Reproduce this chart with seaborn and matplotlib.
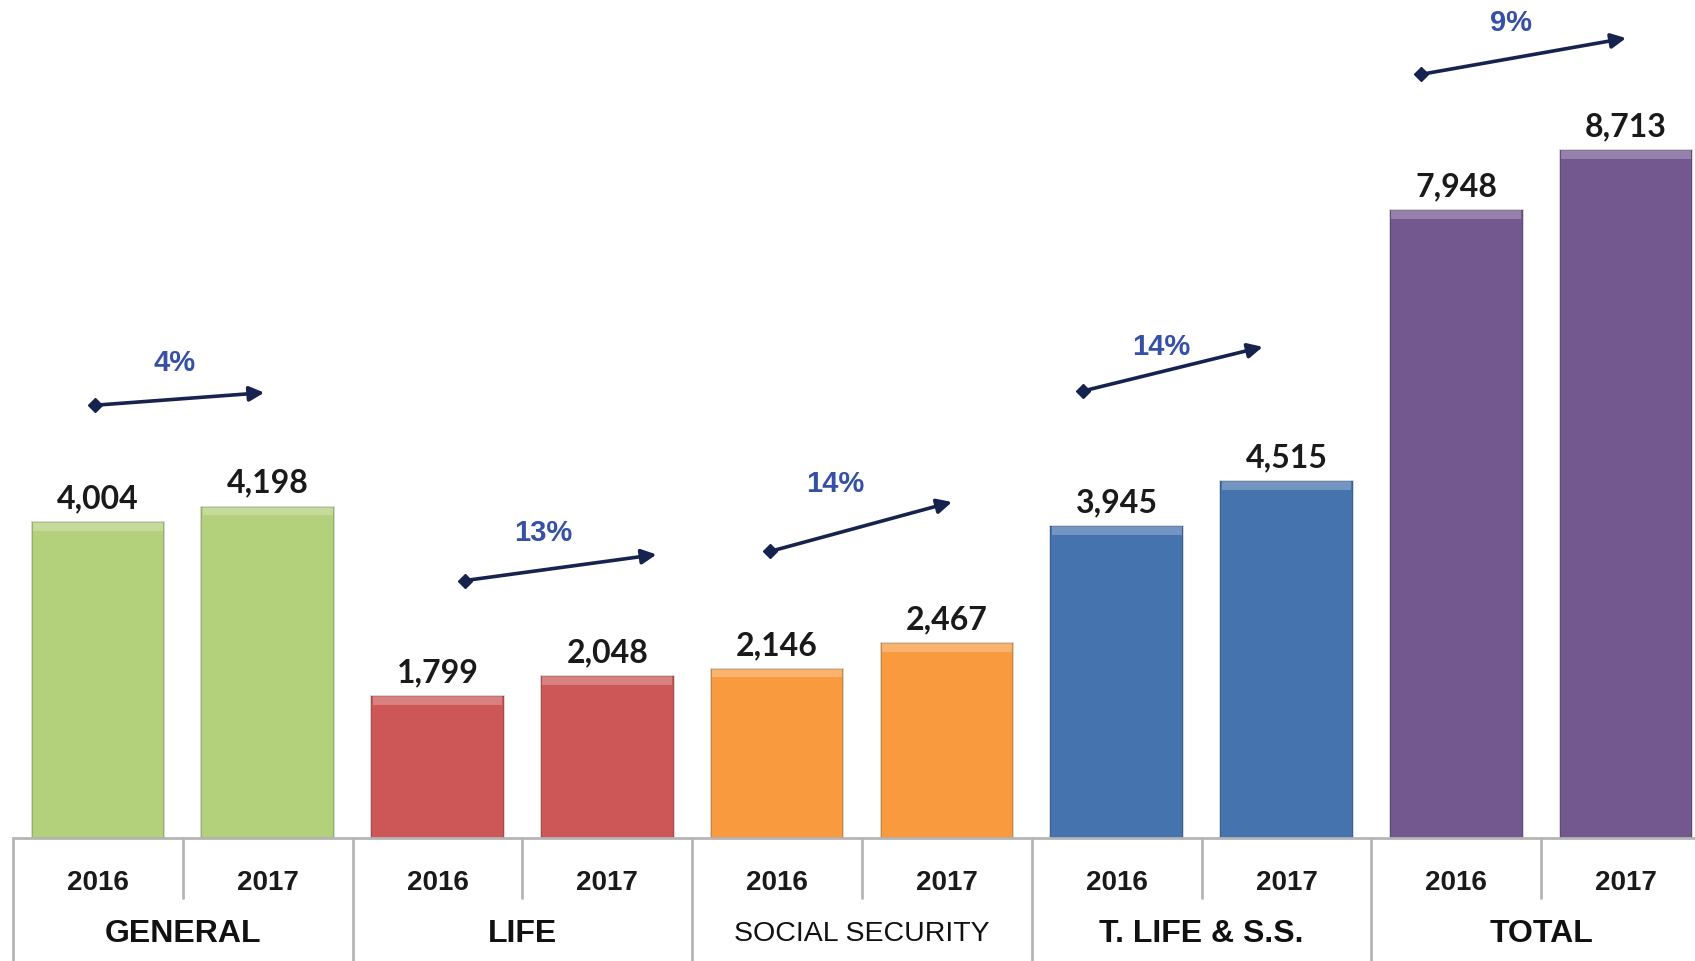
import matplotlib
matplotlib.use("Agg")
import matplotlib.pyplot as plt
import matplotlib.transforms as mtransforms
import pandas as pd
import seaborn as sns

# data
groups = ["GENERAL", "LIFE", "SOCIAL SECURITY", "T. LIFE & S.S.", "TOTAL"]
years = ["2016", "2017"]
values = [4004, 4198, 1799, 2048, 2146, 2467, 3945, 4515, 7948, 8713]
growth = ["4%", "13%", "14%", "14%", "9%"]
group_colors = ["#b3d07a", "#cd5656", "#f89a3d", "#4473ad", "#72588f"]

# arrow annotations (start, end) in data units, and text position
arrow_start = [(-0.02, 5480), (2.16, 3260), (3.96, 3630), (5.80, 5660), (7.79, 9670)]
arrow_end = [(0.98, 5640), (3.29, 3590), (5.03, 4255), (6.86, 6220), (9.0, 10130)]
text_pos = [(0.45, 6030), (2.62, 3880), (4.34, 4500), (6.26, 6230), (8.32, 10340)]


def main() -> None:
    sns.set_theme(style="white")
    plt.rcParams["font.family"] = ["Liberation Sans Narrow", "Liberation Sans", "DejaVu Sans"]

    labels = [f"{g}\n{y}" for g in groups for y in years]
    df = pd.DataFrame({"bar": labels, "value": values,
                       "group": [g for g in groups for _ in years]})
    palette = {g: c for g, c in zip(groups, group_colors)}

    fig = plt.figure(figsize=(16.95, 9.62), dpi=100)
    # the category table runs a little past the right edge, as in the original
    ax = fig.add_axes([13 / 1695, (962 - 839) / 962, 1698 / 1695, 839 / 962])
    sns.barplot(data=df, x="bar", y="value", hue="group", palette=palette,
                dodge=False, width=0.78, legend=False, ax=ax, saturation=1,
                edgecolor="#00000030", linewidth=1.2)
    ax.set_xlim(-0.5, len(values) - 0.5)
    ax.set_ylim(0, 10625)
    ax.set_xticks([])
    ax.set_yticks([])
    ax.set_xlabel("")
    ax.set_ylabel("")
    for s in ax.spines.values():
        s.set_visible(False)

    # lighter bevel strip on top of each bar
    for p in list(ax.patches):
        x0, w, h = p.get_x(), p.get_width(), p.get_height()
        ax.bar(x0 + w / 2, 110, bottom=h - 110, width=w * 0.98,
               color="white", alpha=0.25, linewidth=0)

    # value labels
    for i, v in enumerate(values):
        ax.annotate(f"{v:,}", (i, v), xytext=(0, 7), textcoords="offset points",
                    ha="center", va="bottom", fontsize=23, fontweight="bold",
                    family=["Lato", "DejaVu Sans"], color="#1a1a1a")

    # growth arrows
    for (x0, y0), (x1, y1), (tx, ty), g in zip(arrow_start, arrow_end, text_pos, growth):
        ax.annotate("", xy=(x1, y1), xytext=(x0, y0),
                    arrowprops=dict(arrowstyle="-|>", color="#17234f", lw=2.6,
                                    mutation_scale=22, shrinkA=0, shrinkB=0))
        ax.plot([x0], [y0], marker="D", color="#17234f", markersize=7)
        ax.text(tx, ty, g, ha="center", va="center", fontsize=21, fontweight="bold",
                color="#3550a4")

    # category table below the bars
    trans = mtransforms.blended_transform_factory(ax.transData, ax.transAxes)
    line_kw = dict(color="#b5b5b5", lw=2, transform=trans, clip_on=False)
    ax.plot([-0.5, len(values) - 0.5], [0, 0], **line_kw)
    for k in range(len(groups) + 1):
        xb = -0.5 + 2 * k
        ax.plot([xb, xb], [0, -0.16], **line_kw)
    for k in range(len(groups)):
        xs = 0.5 + 2 * k
        ax.plot([xs, xs], [0, -0.072], **line_kw)
    for i, lab in enumerate(labels):
        ax.text(i, -0.052, lab.split("\n")[1], transform=trans, ha="center",
                va="center", fontsize=20, fontweight="bold", color="#1a1a1a")
    for k, g in enumerate(groups):
        weight = "normal" if g == "SOCIAL SECURITY" else "bold"
        size = 20.5 if g == "SOCIAL SECURITY" else 23
        ax.text(0.5 + 2 * k, -0.113, g, transform=trans, ha="center", va="center",
                fontsize=size, fontweight=weight, color="#111111")

    fig.savefig("out.png", dpi=100)


if __name__ == "__main__":
    main()
